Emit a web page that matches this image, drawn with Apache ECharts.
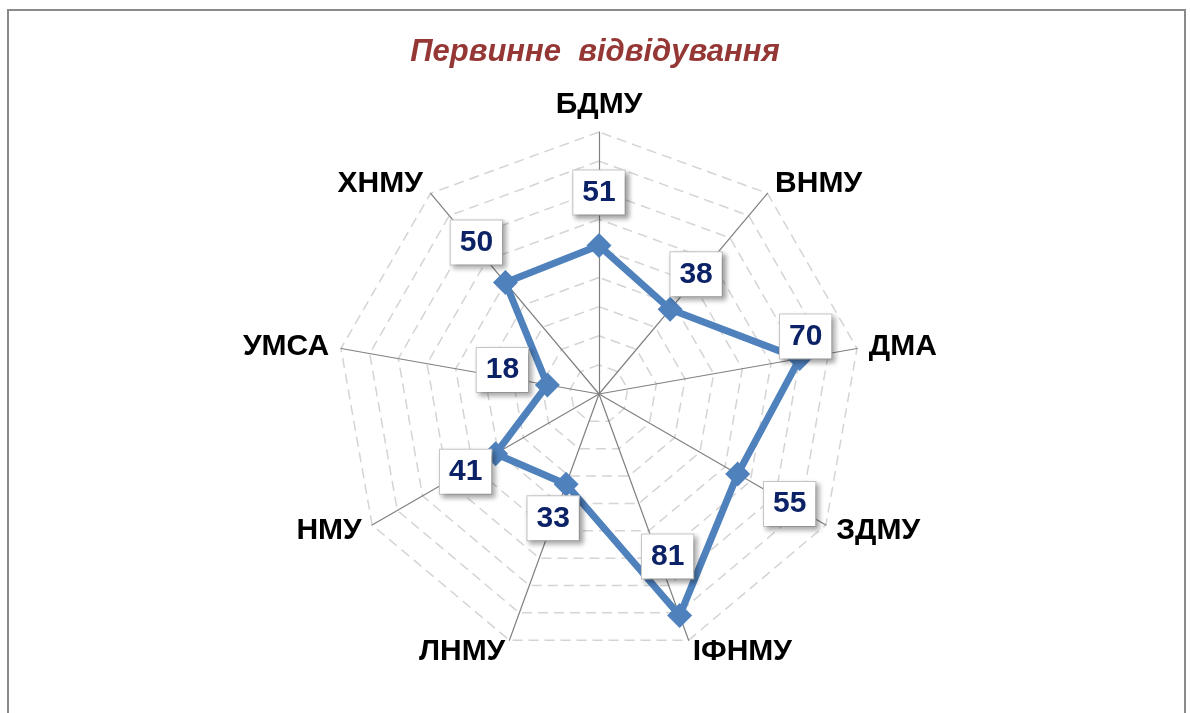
<!DOCTYPE html>
<html>
<head>
<meta charset="utf-8">
<script src="https://cdn.jsdelivr.net/npm/echarts@6/dist/echarts.min.js"></script>
<style>
html,body{margin:0;padding:0;background:#fff;}
#chart{width:1190px;height:713px;}
</style>
</head>
<body>
<div id="chart"></div>
<script>
// ---- data ----
const titleText = 'Первинне  відвідування';
const categories = ['БДМУ','ВНМУ','ДМА','ЗДМУ','ІФНМУ','ЛНМУ','НМУ','УМСА','ХНМУ'];
const values = [51, 38, 70, 55, 81, 33, 41, 18, 50];
const axisMin = 0;
const axisMax = 90;
const axisInterval = 10;
// label box offsets (px) relative to each point
const labelOffsets = [[0,-53],[26,-35],[6,-22],[52,30],[-12,-59],[-13,34],[-30,18],[-45,-15],[-29,-40]];

// ---- layout ----
const CENTER = [599, 394];
const RADIUS = 262;
const FONT = '"Liberation Sans", Arial, sans-serif';

// radar draws counter-clockwise; reverse (keeping first at top) so order runs clockwise
const order = categories.map((c, i) => (categories.length - i) % categories.length);
const radarIndicators = order.map(i => ({ name: categories[i], min: axisMin, max: axisMax }));
const radarValues = order.map(i => values[i]);

const chart = echarts.init(document.getElementById('chart'), null, { renderer: 'canvas' });
chart.setOption({
  animation: false,
  backgroundColor: '#ffffff',
  title: {
    text: titleText,
    left: 'center',
    top: 32,
    textStyle: { fontFamily: FONT, fontSize: 31, fontWeight: 'bold', fontStyle: 'italic', color: '#953735' }
  },
  graphic: [{
    type: 'rect', silent: true, z: -1,
    shape: { x: 8, y: 10, width: 1177, height: 740 },
    style: { fill: 'none', stroke: '#8a8a8a', lineWidth: 2 }
  }],
  radar: {
    center: CENTER,
    radius: RADIUS,
    startAngle: 90,
    shape: 'polygon',
    splitNumber: (axisMax - axisMin) / axisInterval,
    indicator: radarIndicators,
    axisNameGap: 12,
    axisName: { color: '#000', fontFamily: FONT, fontSize: 30, fontWeight: 'bold' },
    axisLine: { show: true, lineStyle: { color: '#808080', width: 1.2 } },
    splitLine: { show: true, lineStyle: { color: '#d4d4d4', width: 1.5, type: [10, 6] } },
    splitArea: { show: false },
    axisTick: { show: false },
    axisLabel: { show: false }
  },
  polar: { center: CENTER, radius: RADIUS },
  angleAxis: {
    type: 'category', data: categories, startAngle: 90, clockwise: true,
    boundaryGap: false, show: false
  },
  radiusAxis: { type: 'value', min: axisMin, max: axisMax, show: false },
  series: [
    {
      type: 'radar',
      z: 3,
      symbol: 'diamond',
      symbolSize: 25,
      lineStyle: { color: '#4f81bd', width: 7 },
      itemStyle: { color: '#4f81bd' },
      data: [{ value: radarValues, name: 'Первинне відвідування' }]
    },
    {
      type: 'scatter',
      coordinateSystem: 'polar',
      z: 5,
      symbolSize: 0,
      silent: true,
      itemStyle: { opacity: 1 },
      data: values.map((v, i) => ({
        value: [v, categories[i]],
        label: { offset: labelOffsets[i] }
      })),
      label: {
        show: true,
        position: 'inside',
        opacity: 1,
        formatter: p => String(p.value[0]),
        fontFamily: FONT,
        fontSize: 30,
        fontWeight: 'bold',
        color: '#0c2266',
        lineHeight: 30,
        backgroundColor: '#ffffff',
        borderColor: '#c8c8c8',
        borderWidth: 1,
        padding: [7, 9, 7, 9],
        shadowColor: 'rgba(0,0,0,0.35)',
        shadowBlur: 5,
        shadowOffsetX: 3,
        shadowOffsetY: 3
      }
    }
  ]
});
</script>
</body>
</html>
